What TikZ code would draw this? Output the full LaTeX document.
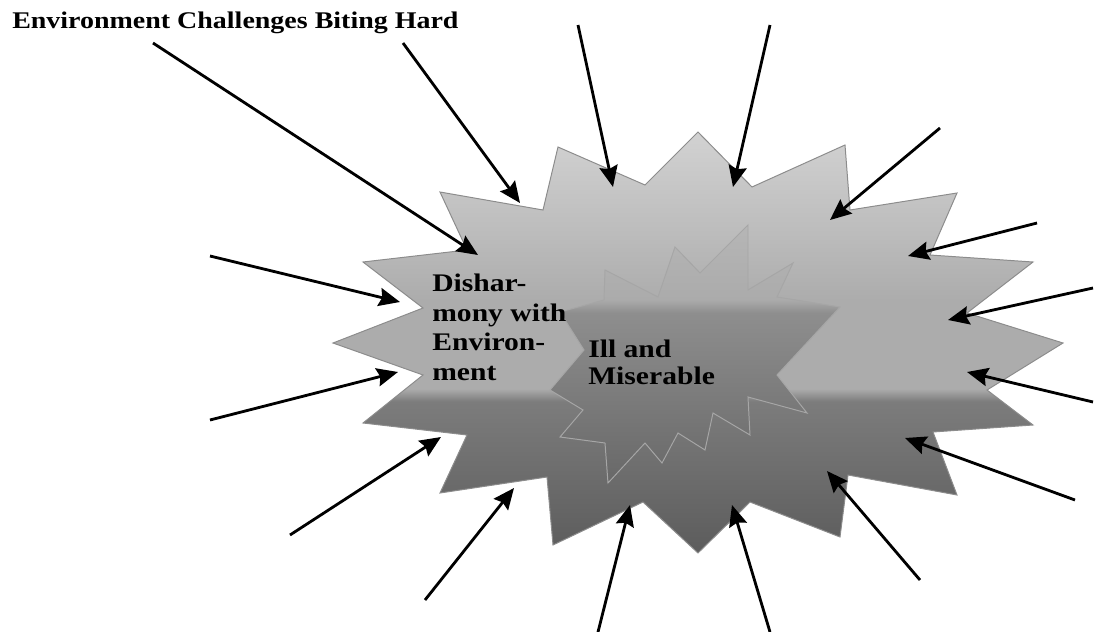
\documentclass[tikz,border=0pt]{standalone}
\usepackage{fontspec}
\setmainfont{Liberation Serif}[FakeStretch=1.17]
\usetikzlibrary{arrows.meta}
\usepackage{xcolor}
\definecolor{burstlight}{HTML}{D2D2D2}
\definecolor{burstmesh}{HTML}{BCBCBC}
\definecolor{burstdots}{HTML}{ACACAC}
\definecolor{burstmid}{HTML}{7C7C7C}
\definecolor{burstdark}{HTML}{5C5C5C}
\definecolor{coretop}{HTML}{B6B6B6}
\definecolor{coremesh}{HTML}{ABABAB}
\definecolor{coremid}{HTML}{8E8E8E}
\definecolor{coredark}{HTML}{686868}
\pgfdeclareverticalshading{outerburst}{100bp}{color(0bp)=(burstdark); color(25bp)=(burstdark);
  color(43bp)=(burstmid); color(44.5bp)=(burstdots); color(55bp)=(burstdots);
  color(63bp)=(burstmesh); color(75bp)=(burstlight); color(100bp)=(burstlight)}
\pgfdeclareverticalshading{innerburst}{100bp}{color(0bp)=(coredark); color(25bp)=(coredark);
  color(58bp)=(coremid); color(60.5bp)=(coremesh); color(75bp)=(coretop); color(100bp)=(coretop)}

\begin{document}
\begin{tikzpicture}[
    x=0.025cm, y=-0.025cm,
    hit/.style={line width=2pt, -{Stealth[length=15pt,width=13pt,inset=2pt]}},
    burst/.style={draw=black!45, line width=0.7pt, shading=outerburst},
    core/.style={draw=black!35, line width=0.7pt, shading=innerburst},
    lbl/.style={font=\bfseries\fontsize{18}{21}\selectfont, align=left, inner sep=0pt, anchor=north west}
  ]
    \useasboundingbox (0,0) rectangle (1094,632);

    \path[burst] (698,132) -- (752,187) -- (845,145) -- (850,210) -- (957,193) -- (930,255)
      -- (1033,262) -- (967,313) -- (1063,343) -- (987,390) -- (1033,425) -- (933,432)
      -- (957,495) -- (848,475) -- (840,537) -- (750,502) -- (698,553) -- (643,502)
      -- (553,545) -- (547,477) -- (440,493) -- (467,435) -- (363,423) -- (423,375)
      -- (333,343) -- (423,308) -- (363,262) -- (467,250) -- (440,192) -- (543,210)
      -- (558,147) -- (645,185) -- cycle;
    \path[core] (748,225) -- (748,290) -- (793,263) -- (777,297) -- (840,307) -- (777,375)
      -- (807,413) -- (748,397) -- (750,435) -- (713,413) -- (705,450) -- (678,433)
      -- (662,463) -- (645,443) -- (608,483) -- (605,443) -- (560,437) -- (583,410)
      -- (550,390) -- (584,350) -- (560,312) -- (604,300) -- (605,270) -- (658,297)
      -- (675,247) -- (700,273) -- cycle;

    \node[anchor=base west, inner sep=0pt, font=\bfseries\fontsize{17}{20}\selectfont] (title) at (12,28) {Environment Challenges Biting Hard};
    \node[lbl] (disharmony) at (432,274) {Dishar-\\mony with\\Environ-\\ment};
    \node[lbl, font=\bfseries\fontsize{18}{19}\selectfont] (misery) at (588,340) {Ill and\\Miserable};

    \coordinate (o1) at (153,43);   \coordinate (i1) at (478,255);
    \coordinate (o2) at (403,43);   \coordinate (i2) at (520,203);
    \coordinate (o3) at (578,25);   \coordinate (i3) at (613,187);
    \coordinate (o4) at (770,25);   \coordinate (i4) at (733,187);
    \coordinate (o5) at (940,128);  \coordinate (i5) at (830,220);
    \coordinate (o6) at (1037,223); \coordinate (i6) at (908,256);
    \coordinate (o7) at (1093,288); \coordinate (i7) at (948,320);
    \coordinate (o8) at (1093,402); \coordinate (i8) at (967,372);
    \coordinate (o9) at (1075,500); \coordinate (i9) at (905,438);
    \coordinate (o10) at (920,580); \coordinate (i10) at (827,471);
    \coordinate (o11) at (770,632); \coordinate (i11) at (732,505);
    \coordinate (o12) at (598,632); \coordinate (i12) at (630,505);
    \coordinate (o13) at (425,600); \coordinate (i13) at (514,488);
    \coordinate (o14) at (290,535); \coordinate (i14) at (441,437);
    \coordinate (o15) at (210,420); \coordinate (i15) at (398,372);
    \coordinate (o16) at (210,256); \coordinate (i16) at (400,302);

    \draw[hit] (o1) -- (i1);
    \draw[hit] (o2) -- (i2);
    \draw[hit] (o3) -- (i3);
    \draw[hit] (o4) -- (i4);
    \draw[hit] (o5) -- (i5);
    \draw[hit] (o6) -- (i6);
    \draw[hit] (o7) -- (i7);
    \draw[hit] (o8) -- (i8);
    \draw[hit] (o9) -- (i9);
    \draw[hit] (o10) -- (i10);
    \draw[hit] (o11) -- (i11);
    \draw[hit] (o12) -- (i12);
    \draw[hit] (o13) -- (i13);
    \draw[hit] (o14) -- (i14);
    \draw[hit] (o15) -- (i15);
    \draw[hit] (o16) -- (i16);
  \end{tikzpicture}
\end{document}
